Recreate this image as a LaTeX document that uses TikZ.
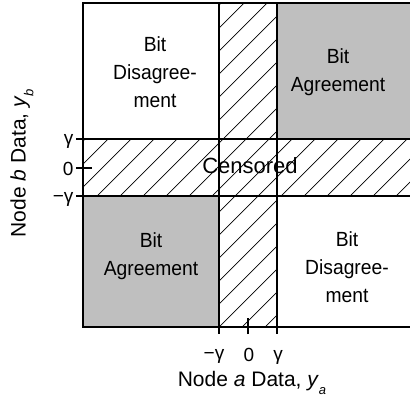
\documentclass[tikz,border=0pt]{standalone}
\usepackage{fontspec}
\setmainfont{Liberation Sans}
\newfontfamily\regionfont[FakeStretch=0.94]{Liberation Sans}

\begin{document}
\begin{tikzpicture}[x=1bp,y=-1bp,line width=1.2bp,
		region/.style={align=center,inner sep=0,font=\regionfont\fontsize{20.5bp}{28bp}\selectfont},
		ticklabel/.style={inner sep=0,font=\fontsize{19bp}{20bp}\selectfont},
		axislabel/.style={inner sep=0,font=\fontsize{21bp}{22bp}\selectfont}]
			\path[use as bounding box] (0,0) rectangle (410,403);
			\clip (0,0) rectangle (410,403);
		
			\coordinate (nw) at (83,3);
			\coordinate (se) at (414,327);
		
			\fill[gray!50] (277,3) rectangle (414,139);
			\fill[gray!50] (83,196) rectangle (219,327);
		
			\begin{scope}
				\clip (83,139) rectangle (414,196) (219,3) rectangle (277,327);
				\foreach \c in {9,...,32}
					\draw[line width=0.7bp] (17+23*\c,0) -- (17+23*\c-420,420);
			\end{scope}
		
			\draw (nw) rectangle (se);
		
			\coordinate (gt) at (76,139);
			\coordinate (zl) at (76,168);
			\coordinate (gb) at (76,196);
			\coordinate (ml) at (219,3);
			\coordinate (mr) at (277,3);
			\coordinate (zb) at (248,334);
		
			\draw (gt) -- (gt -| se);
			\draw (gb) -- (gb -| se);
			\draw (zl) -- ++(16,0);
			\draw (ml) -- ++(0,331);
			\draw (mr) -- ++(0,331);
			\draw (zb) -- ++(0,-16);
		
			\node[ticklabel,anchor=east] (lg) at (74,141) {γ};
			\node[ticklabel,anchor=east] (l0) at (74,169) {0};
			\node[ticklabel,anchor=east] (lmg) at (74,199) {−γ};
			\node[ticklabel] (bmg) at (214,356) {−γ};
			\node[ticklabel] (b0) at (249,355) {0};
			\node[ticklabel] (bg) at (278,357) {γ};
		
			\node[region] (tl) at (155,72) {Bit\\Disagree-\\ment};
			\node[region] (tr) at (338,72) {Bit\\Agreement};
			\node[region] (bl) at (151,256) {Bit\\Agreement};
			\node[region] (br) at (347,267) {Bit\\Disagree-\\ment};
			\node[region,font=\fontsize{22bp}{24bp}\selectfont] (cens) at (250,166) {Censored};
		
			\node[axislabel] (xlab) at (252,383) {Node \textit{a} Data, \textit{y}\raisebox{-0.7ex}{\fontsize{13bp}{13bp}\selectfont\textit{a}}};
			\node[axislabel,rotate=90] (ylab) at (22,163) {Node \textit{b} Data, \textit{y}\raisebox{-0.7ex}{\fontsize{13bp}{13bp}\selectfont\textit{b}}};
		\end{tikzpicture}
\end{document}
